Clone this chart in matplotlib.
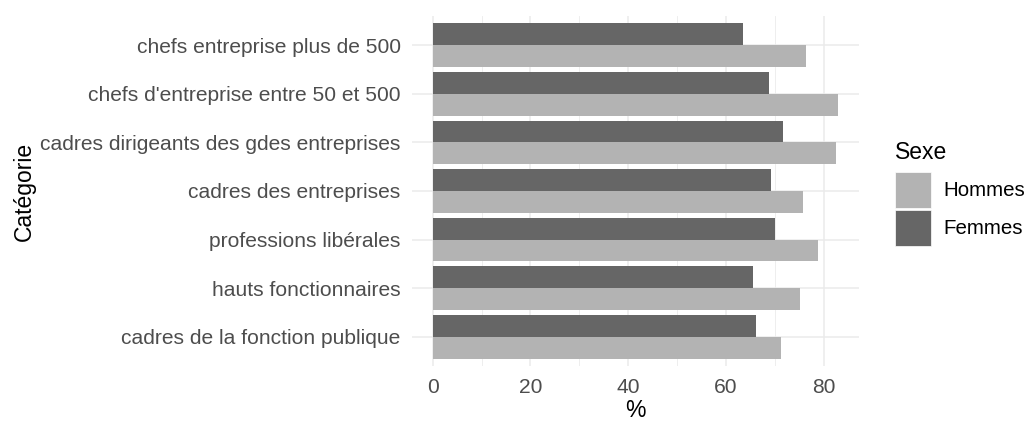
import matplotlib.pyplot as plt
from matplotlib.patches import Rectangle
import numpy as np

# === DATA ===
categories = [
    'cadres de la fonction publique',
    'hauts fonctionnaires',
    'professions libérales',
    'cadres des entreprises',
    'cadres dirigeants des gdes entreprises',
    "chefs d'entreprise entre 50 et 500",
    'chefs entreprise plus de 500',
]
hommes = [71.3, 75.1, 78.8, 75.8, 82.6, 83.0, 76.4]
femmes = [66.2, 65.5, 70.0, 69.3, 71.7, 68.9, 63.5]
xticks = [0, 20, 40, 60, 80]
sexes = ['Hommes', 'Femmes']

# === STYLE ===
plt.rcParams['font.family'] = ['Liberation Sans', 'DejaVu Sans']
C_HOMMES = '#b3b3b3'
C_FEMMES = '#666666'
GRID = '#ebebeb'
W, H = 1033, 423

fig = plt.figure(figsize=(W / 100, H / 100), dpi=100)
ax = fig.add_axes([412.4 / W, 57.2 / H, 446.2 / W, 349.6 / H])

y = np.arange(len(categories))
h = 0.45
ax.barh(y - h / 2, hommes, height=h, color=C_HOMMES, zorder=2)
ax.barh(y + h / 2, femmes, height=h, color=C_FEMMES, zorder=2)

xmax = max(hommes)
ax.set_xlim(-0.05 * xmax, 1.05 * xmax)
ax.set_ylim(-0.6, len(categories) - 0.4)

ax.set_xticks(xticks)
ax.set_xticks([10, 30, 50, 70], minor=True)
ax.set_yticks(y)
ax.set_yticklabels(categories)

ax.grid(True, which='major', color=GRID, linewidth=1.1, zorder=0)
ax.grid(True, which='minor', axis='x', color=GRID, linewidth=0.6, zorder=0)
ax.set_axisbelow(True)
for s in ax.spines.values():
    s.set_visible(False)

ax.tick_params(axis='both', which='both', length=0, labelsize=15.1, labelcolor='#4d4d4d')
ax.tick_params(axis='y', pad=8.5)
ax.tick_params(axis='x', pad=8.5)

ax.set_xlabel('%', fontsize=16.5, labelpad=1.5)
ax.set_ylabel('Catégorie', fontsize=16.5, labelpad=3)

# === LEGEND (drawn by hand, ggplot style) ===
def fx(px):
    return px / W

def fy(py):
    return 1 - py / H

fig.text(fx(895), fy(152), 'Sexe', fontsize=16.5, ha='left', va='center')
key_top = [172, 210]
for lab, col, top in zip(sexes, [C_HOMMES, C_FEMMES], key_top):
    fig.patches.append(Rectangle((fx(895), fy(top + 36)), fx(36), 36 / H,
                                 transform=fig.transFigure, facecolor=col,
                                 edgecolor='white', linewidth=0.5))
    fig.text(fx(943), fy(top + 18), lab, fontsize=14.8, ha='left', va='center')

fig.savefig('out.png', dpi=100)
